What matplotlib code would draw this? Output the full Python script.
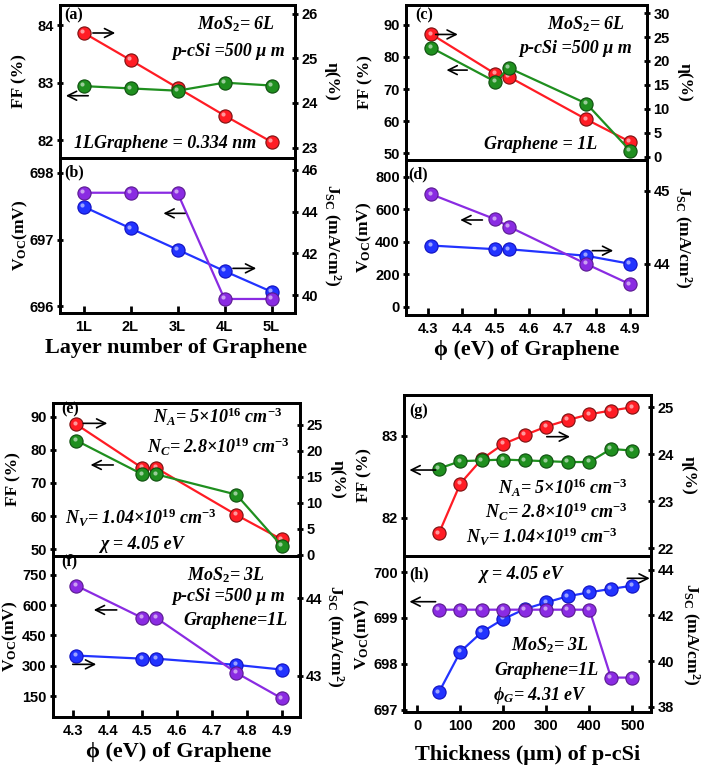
import matplotlib

matplotlib.use("Agg")
import matplotlib.pyplot as plt
import matplotlib.transforms as mtransforms

plt.rcParams["mathtext.fontset"] = "custom"
plt.rcParams["mathtext.rm"] = "Liberation Serif:bold"
plt.rcParams["mathtext.it"] = "Liberation Serif:italic:bold"
plt.rcParams["mathtext.bf"] = "Liberation Serif:bold"

# ---- data -------------------------------------------------------------
layers = [1, 2, 3, 4, 5]
layer_labels = ["1L", "2L", "3L", "4L", "5L"]
ff_a = [82.94, 82.90, 82.86, 83.00, 82.95]
eta_a = [25.57, 24.96, 24.34, 23.72, 23.13]
voc_b = [697.70, 697.70, 697.70, 696.11, 696.11]
jsc_b = [44.24, 43.20, 42.18, 41.15, 40.16]

phi = [4.31, 4.50, 4.54, 4.77, 4.90]
ff_c = [82.9, 72.3, 76.6, 65.5, 50.8]
eta_c = [25.6, 17.3, 16.7, 7.8, 3.1]
voc_d = [692, 538, 493, 263, 138]
jsc_d = [44.25, 44.20, 44.20, 44.11, 44.00]

ff_e = [82.8, 72.6, 72.6, 66.5, 51.1]
eta_e = [25.1, 16.7, 16.7, 7.7, 3.0]
voc_f = [697, 537, 537, 265, 139]
jsc_f = [43.26, 43.22, 43.22, 43.14, 43.08]

thick = [50, 100, 150, 200, 250, 300, 350, 400, 450, 500]
ff_g = [82.60, 82.69, 82.70, 82.71, 82.70, 82.69, 82.68, 82.68, 82.84, 82.82]
eta_g = [22.32, 23.38, 23.90, 24.22, 24.41, 24.59, 24.73, 24.85, 24.93, 25.00]
voc_h = [699.18, 699.18, 699.18, 699.18, 699.18, 699.18, 699.18, 699.18, 697.70, 697.70]
jsc_h = [38.63, 40.41, 41.27, 41.84, 42.28, 42.57, 42.84, 43.01, 43.16, 43.30]

phi_ticks = [4.3, 4.4, 4.5, 4.6, 4.7, 4.8, 4.9]
phi_labels = ["4.3", "4.4", "4.5", "4.6", "4.7", "4.8", "4.9"]
thick_ticks = [0, 100, 200, 300, 400, 500]
thick_labels = ["0", "100", "200", "300", "400", "500"]

RED, GREEN, PURPLE, BLUE = "#ff1c24", "#1f8f1f", "#8a2be2", "#2233ff"
RED_L, GREEN_L, PURPLE_L, BLUE_L = "#7a1010", "#0f4f0f", "#5a1a90", "#1010c0"

SERIF = "Liberation Serif"
SANS = "Liberation Sans"

fig = plt.figure(figsize=(7.08, 7.69), dpi=100)


def px(l, r, t, b):
    W, H = 708.0, 769.0
    return [l / W, 1 - b / H, (r - l) / W, (b - t) / H]


def style(ax):
    for s in ax.spines.values():
        s.set_linewidth(2.0)
    ax.tick_params(axis="y", which="both", direction="inout", length=5, width=2,
                   labelsize=10.5, pad=2)
    for lab in ax.get_yticklabels():
        lab.set_fontfamily(SANS)
        lab.set_fontweight("bold")


def series(ax, x, y, color, lcolor):
    ax.plot(x, y, "-", color=color, lw=1.6, zorder=2)
    ax.plot(x, y, "o", ms=9.5, mfc=color, mec=lcolor, mew=0.8, zorder=3)
    hl = mtransforms.offset_copy(ax.transData, fig=fig, x=-1.2, y=1.2, units="points")
    ax.plot(x, y, "o", ms=3, mfc="white", mec="none", alpha=0.55, transform=hl, zorder=4)


def pair(rect, x, yl, yr, cl, cr, xlim, yl_lim, yr_lim, yl_ticks, yr_ticks,
         ll, rl, lx, rx):
    ax = fig.add_axes(rect)
    tw = ax.twinx()
    series(tw, x, yr, *cr)
    series(ax, x, yl, *cl)
    ax.set_zorder(tw.get_zorder() + 1)
    ax.patch.set_visible(False)
    ax.set_xlim(*xlim)
    ax.set_ylim(*yl_lim)
    tw.set_ylim(*yr_lim)
    ax.set_yticks(yl_ticks)
    tw.set_yticks(yr_ticks)
    style(ax)
    style(tw)
    ax.set_ylabel(ll, fontfamily=SERIF, fontweight="bold", fontsize=12.5, va="center")
    tw.set_ylabel(rl, fontfamily=SERIF, fontweight="bold", fontsize=12.5, va="center",
                  rotation=270)
    ax.yaxis.set_label_coords(lx, 0.5)
    tw.yaxis.set_label_coords(rx, 0.5)
    return ax, tw


def txt(ax, x, y, s, ha="right", size=13):
    ax.text(x, y, s, transform=ax.transAxes, ha=ha, va="center", fontfamily=SERIF,
            fontweight="bold", fontstyle="italic", fontsize=size, zorder=6)


def tag(ax, x, y, s):
    ax.text(x, y, s, transform=ax.transAxes, ha="left", va="center", fontfamily=SERIF,
            fontweight="bold", fontsize=11.5, zorder=6)


def arrow(ax, x0, x1, y):
    ax.annotate("", xy=(x1, y), xytext=(x0, y), xycoords="axes fraction",
                arrowprops=dict(arrowstyle="->", lw=1.2, color="black",
                                mutation_scale=16, shrinkA=0, shrinkB=0), zorder=6)


def xaxis(ax, ticks, labels, xlabel, ly, lxp=0.5):
    ax.set_xticks(ticks)
    ax.set_xticklabels(labels, fontfamily=SANS, fontweight="bold", fontsize=10.5)
    ax.tick_params(axis="x", direction="in", length=5, width=2, pad=5, top=False)
    ax.set_xlabel(xlabel, fontfamily=SERIF, fontweight="bold", fontsize=16, va="center")
    ax.xaxis.set_label_coords(lxp, ly)


FF_L = "FF (%)"
ETA_L = "η(%)"
VOC_L = r"V$_{\rm OC}$(mV)"
JSC_L = r"J$_{\rm SC}$ (mA/cm$^{\rm 2}$)"

# ---- (a) / (b) ------------------------------------------------------------
a, at = pair(px(60, 295, 5, 158), layers, ff_a, eta_a, (GREEN, GREEN_L), (RED, RED_L),
             (0.5, 5.5), (81.69, 84.35), (22.77, 26.19), [82, 83, 84], [23, 24, 25, 26],
             FF_L, ETA_L, -0.174, 1.156)
a.set_xticks([])
tag(a, 0.02, 0.93, "(a)")
txt(a, 0.915, 0.876, r"MoS$_\mathit{2}$= 6L")
txt(a, 0.957, 0.695, "p-cSi =500 μ m")
txt(a, 0.447, 0.092, "1LGraphene = 0.334 nm", ha="center")
arrow(a, 0.14, 0.235, 0.817)
arrow(a, 0.12, 0.025, 0.407)

b, bt = pair(px(60, 295, 158, 313), layers, voc_b, jsc_b, (PURPLE, PURPLE_L), (BLUE, BLUE_L),
             (0.5, 5.5), (695.9, 698.22), (39.14, 46.57), [696, 697, 698], [40, 42, 44, 46],
             VOC_L, JSC_L, -0.17, 1.156)
xaxis(b, layers, layer_labels, "Layer number of Graphene", -0.228, 0.493)
tag(b, 0.02, 0.91, "(b)")
arrow(b, 0.532, 0.44, 0.643)
arrow(b, 0.736, 0.835, 0.288)

# ---- (c) / (d) ------------------------------------------------------------
c, ct = pair(px(406, 647, 5, 160), phi, ff_c, eta_c, (GREEN, GREEN_L), (RED, RED_L),
             (4.235, 4.95), (47.9, 96.2), (-0.7, 31.7), [50, 60, 70, 80, 90],
             [0, 5, 10, 15, 20, 25, 30], FF_L, ETA_L, -0.167, 1.157)
c.set_xticks([])
tag(c, 0.04, 0.935, "(c)")
txt(c, 0.91, 0.877, r"MoS$_\mathit{2}$= 6L")
txt(c, 0.938, 0.72, "p-cSi =500 μ m")
txt(c, 0.559, 0.097, "Graphene = 1L", ha="center")
arrow(c, 0.123, 0.215, 0.81)
arrow(c, 0.254, 0.168, 0.58)

d, dt = pair(px(406, 647, 160, 315), phi, voc_d, jsc_d, (PURPLE, PURPLE_L), (BLUE, BLUE_L),
             (4.235, 4.95), (-51, 903), (43.3, 45.42), [0, 200, 400, 600, 800], [44, 45],
             VOC_L, JSC_L, -0.174, 1.146)
xaxis(d, phi_ticks, phi_labels, "ϕ (eV) of Graphene", -0.226)
tag(d, 0.01, 0.91, "(d)")
arrow(d, 0.317, 0.225, 0.613)
arrow(d, 0.773, 0.86, 0.415)

# ---- (e) / (f) ------------------------------------------------------------
e, et = pair(px(53, 300, 403, 556), phi, ff_e, eta_e, (GREEN, GREEN_L), (RED, RED_L),
             (4.243, 4.953), (48.0, 94.1), (-0.2, 29.2), [50, 60, 70, 80, 90],
             [0, 5, 10, 15, 20, 25], FF_L, ETA_L, -0.16, 1.154)
e.set_xticks([])
tag(e, 0.035, 0.955, "(e)")
txt(e, 0.926, 0.91, r"N$_\mathit{A}$= 5×10$^\mathit{16}$ cm$^\mathit{-3}$")
txt(e, 0.96, 0.71, r"N$_\mathit{C}$= 2.8×10$^\mathit{19}$ cm$^\mathit{-3}$")
txt(e, 0.355, 0.246, r"N$_\mathit{V}$= 1.04×10$^\mathit{19}$ cm$^\mathit{-3}$", ha="center")
txt(e, 0.359, 0.072, "χ = 4.05 eV", ha="center")
arrow(e, 0.123, 0.22, 0.867)
arrow(e, 0.244, 0.152, 0.595)

f, ft = pair(px(53, 300, 556, 717), phi, voc_f, jsc_f, (PURPLE, PURPLE_L), (BLUE, BLUE_L),
             (4.243, 4.953), (46, 844), (42.47, 44.54), [150, 300, 450, 600, 750], [43, 44],
             VOC_L, JSC_L, -0.174, 1.14)
xaxis(f, phi_ticks, phi_labels, "ϕ (eV) of Graphene", -0.215, 0.507)
tag(f, 0.035, 0.965, "(f)")
txt(f, 0.858, 0.88, r"MoS$_\mathit{2}$= 3L")
txt(f, 0.939, 0.747, "p-cSi =500 μ m")
txt(f, 0.951, 0.598, "Graphene=1L")
arrow(f, 0.258, 0.165, 0.665)
arrow(f, 0.08, 0.175, 0.327)

# ---- (g) / (h) ------------------------------------------------------------
g, gt = pair(px(404, 651, 395, 556), thick, ff_g, eta_g, (GREEN, GREEN_L), (RED, RED_L),
             (-31, 543), (81.53, 83.5), (21.84, 25.26), [82, 83], [22, 23, 24, 25],
             FF_L, ETA_L, -0.162, 1.154)
g.set_xticks([])
tag(g, 0.02, 0.9, "(g)")
txt(g, 0.904, 0.42, r"N$_\mathit{A}$= 5×10$^\mathit{16}$ cm$^\mathit{-3}$")
txt(g, 0.904, 0.275, r"N$_\mathit{C}$= 2.8×10$^\mathit{19}$ cm$^\mathit{-3}$")
txt(g, 0.864, 0.12, r"N$_\mathit{V}$= 1.04×10$^\mathit{19}$ cm$^\mathit{-3}$")
arrow(g, 0.578, 0.672, 0.741)
arrow(g, 0.128, 0.022, 0.534)

h, ht = pair(px(404, 651, 556, 712), thick, voc_h, jsc_h, (PURPLE, PURPLE_L), (BLUE, BLUE_L),
             (-31, 543), (696.95, 700.35), (37.77, 44.6), [697, 698, 699, 700],
             [38, 40, 42, 44], VOC_L, JSC_L, -0.17, 1.16)
xaxis(h, thick_ticks, thick_labels, "Thickness (μm) of p-cSi", -0.276)
tag(h, 0.02, 0.885, "(h)")
txt(h, 0.472, 0.88, "χ = 4.05 eV", ha="center")
txt(h, 0.749, 0.43, r"MoS$_\mathit{2}$= 3L")
txt(h, 0.79, 0.269, "Graphene=1L")
txt(h, 0.742, 0.103, r"ϕ$_\mathit{G}$= 4.31 eV")
arrow(h, 0.128, 0.022, 0.707)
arrow(h, 0.904, 0.995, 0.857)

fig.savefig("out.png", dpi=100)
